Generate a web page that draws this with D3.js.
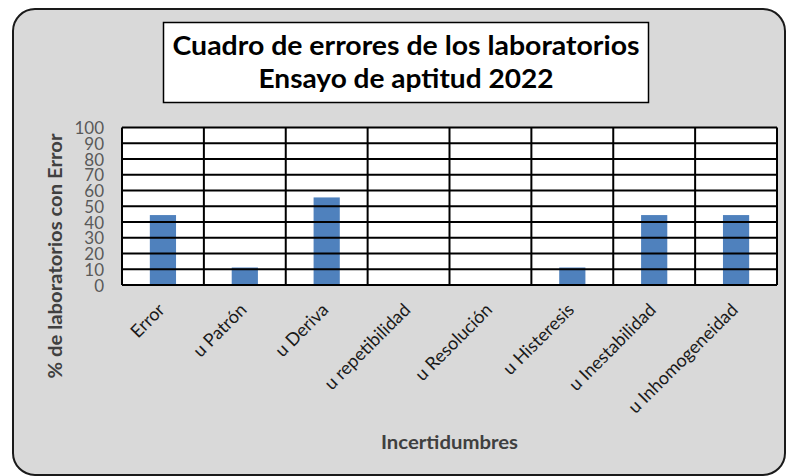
<!DOCTYPE html>
<html><head><meta charset="utf-8">
<script src="https://cdn.jsdelivr.net/npm/d3@7"></script>
<style>body{margin:0;background:#fff}svg{display:block}</style>
</head><body>
<svg id="c" width="788" height="476"></svg>
<script>
const categories = ["Error","u Patrón","u Deriva","u repetibilidad","u Resolución","u Histeresis","u Inestabilidad","u Inhomogeneidad"];
const values = [44.4, 11.1, 55.6, 0, 0, 11.1, 44.4, 44.4];
const yTicks = [0,10,20,30,40,50,60,70,80,90,100];
const titleLines = ["Cuadro de errores de los laboratorios","Ensayo de aptitud 2022"];
const yTitle = "% de laboratorios  con Error";
const xTitle = "Incertidumbres";

const FONT = "Lato, 'Open Sans', sans-serif";
const svg = d3.select("#c");
svg.append("rect").attr("x",13).attr("y",9).attr("width",772).attr("height",466)
  .attr("rx",22).attr("ry",22).attr("fill","#d9d9d9").attr("stroke","#1a1a1a").attr("stroke-width",2);

// title box
svg.append("rect").attr("x",163.5).attr("y",22.5).attr("width",485).attr("height",80)
  .attr("fill","#fff").attr("stroke","#000").attr("stroke-width",1.5);
const tl = [[55,467],[88,295]];
titleLines.forEach((t,i)=>{
  svg.append("text").attr("x",406).attr("y",tl[i][0]).attr("text-anchor","middle")
    .style("font-family",FONT).attr("font-weight","bold").style("font-size","26px")
    .attr("textLength",tl[i][1]).attr("lengthAdjust","spacingAndGlyphs")
    .attr("fill","#000").text(t);
});

const L=122,R=777,T=127.5,B=285;
const x = d3.scaleBand().domain(categories).range([L,R]).paddingInner(0).paddingOuter(0);
const y = d3.scaleLinear().domain([0,100]).range([B,T]);

const g = svg.append("g");
g.append("rect").attr("x",L).attr("y",T).attr("width",R-L).attr("height",B-T).attr("fill","#fff");

// bars
const bw = x.bandwidth()*0.32;
g.selectAll(".bar").data(values).join("rect")
  .attr("x",(d,i)=>x(categories[i])+x.bandwidth()/2-bw/2)
  .attr("width",bw)
  .attr("y",d=>y(d)).attr("height",d=>B-y(d))
  .attr("fill","#4f81bd");

// gridlines
g.selectAll(".hg").data(yTicks).join("line")
  .attr("x1",L).attr("x2",R).attr("y1",d=>y(d)).attr("y2",d=>y(d))
  .attr("stroke","#000").attr("stroke-width",2);
const vb = categories.map(c=>x(c)).concat([R]);
g.selectAll(".vg").data(vb).join("line")
  .attr("x1",d=>d).attr("x2",d=>d).attr("y1",T).attr("y2",B)
  .attr("stroke","#000").attr("stroke-width",2);

// y axis labels
const ya = d3.axisLeft(y).tickValues(yTicks).tickSize(0).tickPadding(0);
const yg = svg.append("g").attr("transform",`translate(${104},0)`).call(ya);
yg.select(".domain").remove();
yg.attr("font-size",null).attr("font-family",null);
yg.selectAll("text").style("font-family",FONT).style("font-size","17px")
  .attr("fill","#595959").attr("dy","0.36em");

// x axis labels
const xa = d3.axisBottom(x).tickSize(0).tickPadding(0);
const xg = svg.append("g").attr("transform",`translate(0,${B})`).call(xa);
xg.select(".domain").remove();
xg.attr("font-size",null).attr("font-family",null);
xg.selectAll("text").style("font-family",FONT).style("font-size","18px")
  .attr("fill","#1a1a1a").attr("text-anchor","end").attr("dy",null).attr("y",0)
  .attr("transform","translate(3,26) rotate(-45)");

svg.append("text").attr("transform","translate(62,256) rotate(-90)").attr("text-anchor","middle")
  .style("font-family",FONT).attr("font-weight","bold").style("font-size","18px")
  .attr("textLength",245).attr("lengthAdjust","spacingAndGlyphs")
  .attr("fill","#404040").text(yTitle);
svg.append("text").attr("x",449.5).attr("y",449).attr("text-anchor","middle")
  .style("font-family",FONT).attr("font-weight","bold").style("font-size","18px")
  .attr("textLength",137).attr("lengthAdjust","spacingAndGlyphs")
  .attr("fill","#404040").text(xTitle);
</script>
</body></html>
